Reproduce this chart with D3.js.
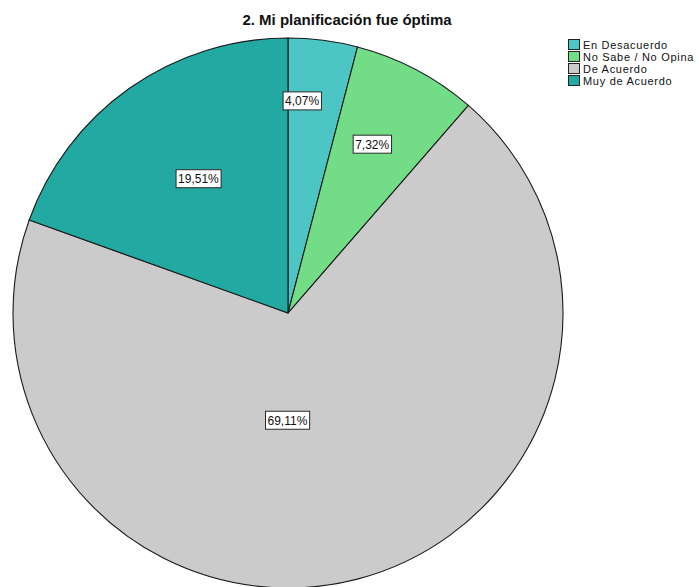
<!DOCTYPE html>
<html>
<head>
<meta charset="utf-8">
<script src="https://cdn.jsdelivr.net/npm/d3@7"></script>
<style>
  html, body { margin: 0; padding: 0; background: #fff; }
  svg { display: block; font-family: "Liberation Sans", Arial, sans-serif; }
</style>
</head>
<body>
<svg id="chart" width="699" height="587"></svg>
<script>
// Survey responses for "Mi planificación fue óptima"
const categories = ["En Desacuerdo", "No Sabe / No Opina", "De Acuerdo", "Muy de Acuerdo"];
const percentages = [4.07, 7.32, 69.11, 19.51];
const sliceColors = ["#4cc6c4", "#72dc86", "#cbcbcb", "#22aaa2"];
const chartTitle = "2. Mi planificación fue óptima";

// Label anchor within each slice: share of the slice's angular span, share of the radius
const labelAlong = [0.26, 0.45, 0.56, 0.52];
const labelRadius = [0.773, 0.686, 0.39, 0.587];

const svg = d3.select("#chart");
const cx = 288, cy = 313, r = 275;

svg.append("text")
  .attr("x", 347).attr("y", 25)
  .attr("text-anchor", "middle")
  .attr("font-size", 15).attr("font-weight", "bold")
  .attr("fill", "#111")
  .text(chartTitle);

const pie = d3.pie().sort(null).value(d => d);
const arcs = pie(percentages);
const arc = d3.arc().innerRadius(0).outerRadius(r);

const g = svg.append("g").attr("transform", `translate(${cx},${cy})`);

g.selectAll("path.slice")
  .data(arcs)
  .join("path")
  .attr("class", "slice")
  .attr("d", arc)
  .attr("fill", (d, i) => sliceColors[i])
  .attr("stroke", "#1a1a1a")
  .attr("stroke-width", 1.1);

const fmt = v => v.toFixed(2).replace(".", ",") + "%";

const labels = g.selectAll("g.lbl")
  .data(arcs)
  .join("g")
  .attr("class", "lbl")
  .attr("transform", (d, i) => {
    const a = d.startAngle + (d.endAngle - d.startAngle) * labelAlong[i];
    const rr = r * labelRadius[i];
    return `translate(${rr * Math.sin(a)},${-rr * Math.cos(a)})`;
  });

labels.each(function(d) {
  const grp = d3.select(this);
  const t = grp.append("text")
    .attr("text-anchor", "middle")
    .attr("dy", "0.36em")
    .attr("font-size", 12)
    .attr("fill", "#111")
    .text(fmt(d.data));
  const bb = t.node().getBBox();
  grp.insert("rect", "text")
    .attr("x", bb.x - 2).attr("y", -9)
    .attr("width", bb.width + 4).attr("height", 18)
    .attr("fill", "#fff")
    .attr("stroke", "#2a2a2a").attr("stroke-width", 1);
});

// Legend
const legend = svg.append("g").attr("transform", "translate(568,39)");
const rows = legend.selectAll("g")
  .data(categories)
  .join("g")
  .attr("transform", (d, i) => `translate(0,${i * 12})`);
rows.append("rect")
  .attr("x", 0.5).attr("y", 0.5)
  .attr("width", 11).attr("height", 10)
  .attr("fill", (d, i) => sliceColors[i])
  .attr("stroke", "#222").attr("stroke-width", 1);
rows.append("text")
  .attr("x", 15).attr("y", 9.5)
  .attr("font-size", 11)
  .attr("letter-spacing", 0.7)
  .attr("fill", "#111")
  .text(d => d);
</script>
</body>
</html>
